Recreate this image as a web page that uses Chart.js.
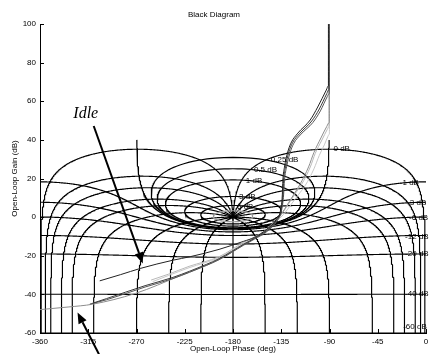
<!DOCTYPE html>
<html>
<head>
<meta charset="utf-8">
<script src="https://cdn.jsdelivr.net/npm/chart.js@4.4.1/dist/chart.umd.min.js"></script>
<style>
  html, body { margin: 0; padding: 0; background: #fff; }
  canvas { display: block; }
</style>
</head>
<body>
<canvas id="black" width="431" height="354"></canvas>
<script>
// axis ticks
const phaseTicks = [-360, -315, -270, -225, -180, -135, -90, -45, 0];
const gainTicks = [-60, -40, -20, 0, 20, 40, 60, 80, 100];

// Nichols grid: closed-loop gain (dB) and closed-loop phase (deg) levels
const closedLoopGains = [6, 3, 1, 0.5, 0.25, 0, -1, -3, -6, -12, -20, -40, -60];
const closedLoopPhases = [1, 5, 10, 20, 30, 50, 90, 120, 150, 180];
const grayLoopGains = [10];

// grid labels
const labelTexts = ['0 dB', '0.25 dB', '0.5 dB', '1 dB', '3 dB', '6 dB', '-1 dB', '-3 dB', '-6 dB', '-12 dB', '-20 dB', '-40 dB', '-60 dB'];
const labelPhases = [-86.3, -144.7, -160.5, -168, -174.4, -176.3, -24.4, -17.6, -15.8, -19.5, -19.5, -19.5, -21.3];
const labelGains = [35.2, 29.5, 24.4, 18.7, 10.6, 5.4, 17.8, 7.3, -0.4, -10.2, -19.2, -39.9, -56.8];

// open-loop responses (phase deg, gain dB)
const idlePhase = [-91, -91, -93, -101, -108, -119.5, -126, -129.2, -132, -133.5, -134, -135.5, -140, -149, -160, -170, -193, -220, -236, -266, -285, -304.3];
const idleGain = [100, 68, 65.8, 57, 50.3, 43.5, 38.3, 33.2, 25.9, 19, 11.5, 4, -1.5, -6.5, -10.5, -12.5, -16.7, -20.5, -22.3, -26.5, -29.8, -33];

const darkAPhase = [-90.6, -90.6, -92.5, -99.5, -106.5, -117.5, -124.5, -128, -131, -132.8, -133.4, -135, -139.5, -148.5, -160, -170, -193, -205, -236, -262, -298, -311];
const darkAGain = [100, 66, 64, 56, 49.8, 43.5, 38.5, 33.5, 26, 19, 11.5, 4, -1.8, -7, -11, -14, -21.5, -24.5, -31.2, -35.5, -42.2, -44.6];

const darkBPhase = [-90.3, -90.3, -92, -98.5, -105.5, -116.5, -123.5, -127, -130, -132, -132.8, -134.5, -139, -148, -160, -170, -193, -205, -236, -262, -298, -313.5];
const darkBGain = [100, 64, 62.5, 55, 49, 43, 38, 33, 26, 19, 11.5, 4, -2, -7.3, -11.4, -14.5, -22, -25, -31.8, -36.2, -42.8, -45];

const grayAPhase = [-90.4, -90.4, -92, -97.1, -103.3, -107.9, -116, -121.8, -128, -134.3, -142, -149.7, -160, -170, -193, -221, -240, -256.4];
const grayAGain = [100, 47, 45.5, 39.9, 33, 26, 17, 12.3, 7, 1.9, -2.5, -6.7, -10.3, -13, -20.5, -25.5, -29.5, -32.6];

const grayBPhase = [-90.1, -90.1, -91.5, -94.5, -99.5, -104.5, -112.5, -119, -126, -133, -141, -149, -160, -170, -193, -221, -240, -255];
const grayBGain = [100, 43, 41.8, 37.8, 32, 25, 16.5, 11.6, 6.4, 1.3, -3, -7.2, -10.8, -13.6, -21, -26.2, -30.2, -33.4];

const grayCPhase = [-90.2, -90.2, -92.5, -98, -104.5, -109.5, -117.5, -123, -129, -135, -142.5, -149.5, -160, -170, -193, -230, -271, -311, -333, -360];
const grayCGain = [100, 49, 47, 41, 33.5, 26, 17, 12, 6.7, 1.6, -2.8, -7, -11, -14.3, -22, -30.5, -39.5, -45.1, -46.5, -47.9];

// annotation arrows and label
const arrowFromPhase = [-309.9, -305];
const arrowFromGain = [47.2, -71];
const arrowToPhase = [-264.2, -325];
const arrowToGain = [-24, -49.4];
const noteText = 'Idle';
const notePhase = -317.3;
const noteGain = 53.4;

Chart.defaults.font.family = '"Liberation Sans", Arial, Helvetica, sans-serif';
Chart.defaults.font.size = 8;
Chart.defaults.color = '#000';

const rad = Math.PI / 180;

function logspace(a, b, n) {
  const out = [];
  for (let i = 0; i <= n; i++) out.push(a * Math.pow(b / a, i / n));
  return out;
}

// constant closed-loop phase contour (and its mirror about -180)
function phaseContour(phi) {
  if (phi === 180) return [[{x: -180, y: -90}, {x: -180, y: 0}]];
  const s = Math.sin(phi * rad);
  const D = 180 - phi;
  let ds = logspace(s * 3e-5 / rad, D, 300);
  for (let i = 1; i <= 300; i++) ds.push(D * i / 300);
  ds.sort((a, b) => a - b);
  const right = [], left = [];
  ds.forEach(d => {
    const r = Math.sin(d * rad) / s;
    const g = 20 * Math.log10(Math.max(r, 1e-6));
    right.push({x: -phi - d, y: g});
    left.push({x: -360 + phi + d, y: g});
  });
  return [right, left];
}

// constant closed-loop gain contour
function gainContour(mdb) {
  const M = Math.pow(10, mdb / 20);
  if (mdb === 0) {
    const pts = [];
    const rs = logspace(0.5, 100, 300);
    for (let i = rs.length - 1; i >= 0; i--) pts.push({x: -180 - Math.acos(0.5 / rs[i]) / rad, y: 20 * Math.log10(rs[i])});
    for (let i = 1; i < rs.length; i++) pts.push({x: -180 + Math.acos(0.5 / rs[i]) / rad, y: 20 * Math.log10(rs[i])});
    return [pts];
  }
  if (M < 1) {
    const c = M * M / (1 - M * M), R = M / (1 - M * M);
    const pts = [];
    for (let i = 0; i <= 720; i++) {
      const th = -i * 0.5 * rad;
      const r = c * Math.cos(th) + Math.sqrt(R * R - c * c * Math.sin(th) ** 2);
      pts.push({x: -i * 0.5, y: 20 * Math.log10(r)});
    }
    return [pts];
  }
  const pts = [];
  for (let i = 0; i <= 1440; i++) {
    const psi = (-180 + i * 0.25) * rad;
    const tr = M * Math.cos(psi), ti = M * Math.sin(psi);
    const dr = 1 - tr, di = -ti;
    const den = dr * dr + di * di;
    const gr = (tr * dr + ti * di) / den, gi = (ti * dr - tr * di) / den;
    let ph = Math.atan2(gi, gr) / rad;
    if (ph > 0) ph -= 360;
    pts.push({x: ph, y: 20 * Math.log10(Math.hypot(gr, gi))});
  }
  return [pts];
}

function curve(ph, g, color) {
  return {
    data: ph.map((p, i) => ({x: p, y: g[i]})),
    showLine: true, borderColor: color, borderWidth: 1, pointRadius: 0, tension: 0.3, cubicInterpolationMode: 'monotone'
  };
}

function gridSet(pts, color) {
  return {data: pts, showLine: true, borderColor: color, borderWidth: 1.15, pointRadius: 0, tension: 0};
}

const datasets = [
  curve(idlePhase, idleGain, '#222'),
  curve(darkAPhase, darkAGain, '#3a3a3a'),
  curve(darkBPhase, darkBGain, '#555'),
  curve(grayCPhase, grayCGain, '#8c8c8c'),
  curve(grayAPhase, grayAGain, '#b8b8b8'),
  curve(grayBPhase, grayBGain, '#c8c8c8'),
  {data: [{x: -180, y: 0}], pointStyle: 'cross', pointRadius: 3.5, borderColor: '#000', borderWidth: 1, showLine: false}
];
grayLoopGains.forEach(m => gainContour(m).forEach(p => datasets.push(gridSet(p, '#9a9a9a'))));
closedLoopGains.forEach(m => gainContour(m).forEach(p => datasets.push(gridSet(p, '#000'))));
closedLoopPhases.forEach(n => phaseContour(n).forEach(p => datasets.push(gridSet(p, '#000'))));

const extras = {
  id: 'extras',
  afterDatasetsDraw(chart) {
    const {ctx, chartArea, scales: {x, y}} = chart;
    ctx.save();
    // inward tick marks
    ctx.strokeStyle = '#000';
    ctx.lineWidth = 1;
    ctx.beginPath();
    phaseTicks.forEach(v => {
      const px = Math.round(x.getPixelForValue(v)) + 0.5;
      ctx.moveTo(px, chartArea.bottom);
      ctx.lineTo(px, chartArea.bottom - 4);
    });
    gainTicks.forEach(v => {
      const py = Math.round(y.getPixelForValue(v)) + 0.5;
      ctx.moveTo(chartArea.left, py);
      ctx.lineTo(chartArea.left + 4, py);
    });
    ctx.stroke();
    // contour labels
    ctx.fillStyle = '#000';
    ctx.font = '8px "Liberation Sans", Arial, sans-serif';
    ctx.textBaseline = 'middle';
    ctx.textAlign = 'left';
    labelTexts.forEach((t, i) => ctx.fillText(t, x.getPixelForValue(labelPhases[i]), y.getPixelForValue(labelGains[i])));
    // arrows
    arrowFromPhase.forEach((p, i) => {
      const x0 = x.getPixelForValue(p), y0 = y.getPixelForValue(arrowFromGain[i]);
      const x1 = x.getPixelForValue(arrowToPhase[i]), y1 = y.getPixelForValue(arrowToGain[i]);
      const a = Math.atan2(y1 - y0, x1 - x0);
      const bx = x1 - 11 * Math.cos(a), by = y1 - 11 * Math.sin(a);
      ctx.lineWidth = 2;
      ctx.beginPath();
      ctx.moveTo(x0, y0);
      ctx.lineTo(bx, by);
      ctx.stroke();
      ctx.beginPath();
      ctx.moveTo(x1, y1);
      ctx.lineTo(bx + 4.5 * Math.sin(a), by - 4.5 * Math.cos(a));
      ctx.lineTo(bx - 4.5 * Math.sin(a), by + 4.5 * Math.cos(a));
      ctx.closePath();
      ctx.fill();
    });
    ctx.font = 'italic 16px "Liberation Serif", "Times New Roman", serif';
    ctx.textAlign = 'center';
    ctx.fillText(noteText, x.getPixelForValue(notePhase), y.getPixelForValue(noteGain));
    ctx.restore();
  }
};

new Chart(document.getElementById('black'), {
  type: 'scatter',
  data: {datasets},
  options: {
    responsive: false,
    animation: false,
    events: [],
    parsing: false,
    layout: {padding: {top: 0, right: 3, left: 0, bottom: 0}},
    plugins: {
      legend: {display: false},
      tooltip: {enabled: false},
      title: {display: true, text: 'Black Diagram', color: '#000', font: {size: 8, weight: 'normal'}, padding: {top: 10, bottom: 4.4}}
    },
    scales: {
      x: {
        type: 'linear', min: -360, max: 0,
        afterBuildTicks: s => { s.ticks = phaseTicks.map(v => ({value: v})); },
        afterFit: s => { s.height = 21; s.paddingLeft = 0; s.paddingRight = 0; },
        grid: {display: false, drawTicks: false},
        border: {display: true, color: '#000', width: 1},
        ticks: {padding: 4, maxRotation: 0, autoSkip: false},
        title: {display: true, text: 'Open-Loop Phase (deg)', padding: {top: 0, bottom: 0}}
      },
      y: {
        type: 'linear', min: -60, max: 100,
        afterBuildTicks: s => { s.ticks = gainTicks.map(v => ({value: v})); },
        afterFit: s => { s.width = 40; s.paddingTop = 0; s.paddingBottom = 0; },
        grid: {display: false, drawTicks: false},
        border: {display: true, color: '#000', width: 1},
        ticks: {padding: 4, autoSkip: false},
        title: {display: true, text: 'Open-Loop Gain (dB)', padding: {top: 9.5, bottom: 0}}
      }
    }
  },
  plugins: [extras]
});
</script>
</body>
</html>
